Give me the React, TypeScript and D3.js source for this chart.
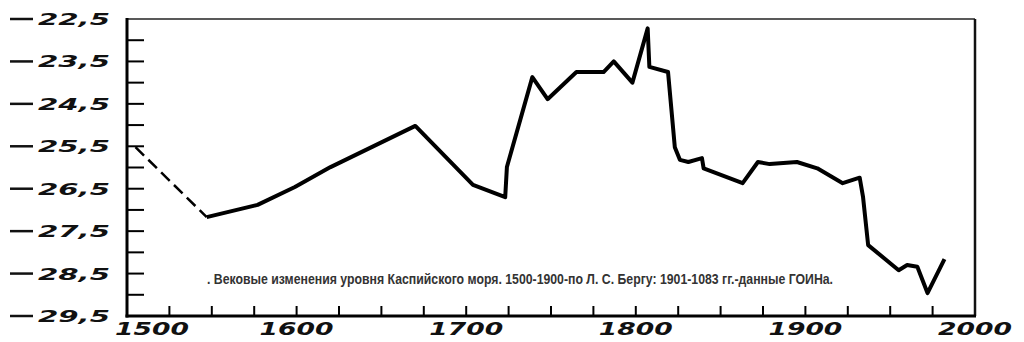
import React from "react";
import * as d3 from "d3";

// Caspian sea level, m
const dashedYears = [1505, 1547];
const dashedLevels = [-25.52, -27.17];

const solidYears = [
  1547, 1577, 1599, 1620, 1670, 1704, 1723, 1724, 1739, 1748, 1765, 1781, 1787,
  1798, 1807, 1808, 1819, 1823, 1826, 1831, 1839, 1840, 1863, 1872, 1879, 1895,
  1907, 1922, 1932, 1934, 1937, 1955, 1960, 1966, 1972, 1982,
];
const solidLevels = [
  -27.17, -26.88, -26.46, -25.99, -25.02, -26.41, -26.7, -25.99, -23.87, -24.39,
  -23.75, -23.75, -23.5, -24.0, -22.72, -23.63, -23.75, -25.52, -25.82, -25.87,
  -25.78, -26.02, -26.37, -25.87, -25.92, -25.87, -26.02, -26.37, -26.24, -26.7,
  -27.83, -28.42, -28.3, -28.34, -28.96, -28.16,
];

const yLabelValues = [-22.5, -23.5, -24.5, -25.5, -26.5, -27.5, -28.5, -29.5];
const yMinorTicks = [
  -23, -23.5, -24, -24.5, -25, -25.5, -26, -26.5, -27, -27.5, -28, -28.5, -29,
];
const xLabelValues = [1500, 1600, 1700, 1800, 1900, 2000];
const xMinorTicks = d3.range(1525, 2000, 25);

const caption =
  ". Вековые изменения уровня Каспийского моря. 1500-1900-по Л. С. Бергу: 1901-1083 гг.-данные ГОИНа.";

const W = 1024;
const H = 342;

export default function App() {
  const x = d3.scaleLinear().domain([1500, 2000]).range([127, 975]);
  const y = d3.scaleLinear().domain([-22.5, -29.5]).range([19, 316]);

  const pathOf = d3
    .line<[number, number]>()
    .x((d) => x(d[0]))
    .y((d) => y(d[1]));
  const solid = pathOf(solidYears.map((yr, i) => [yr, solidLevels[i]]));
  const dashed = pathOf(dashedYears.map((yr, i) => [yr, dashedLevels[i]]));

  const fmt = (v: number) => Math.abs(v).toFixed(1).replace(".", ",");
  const digitFont = "'DejaVu Sans', sans-serif";
  const [x0, x1] = x.range();
  const [y0, y1] = y.range();

  return (
    <svg
      width={W}
      height={H}
      style={{ position: "absolute", left: 0, top: 0, background: "#fff" }}
    >
      {/* frame */}
      <line x1={x0} y1={y0} x2={x1} y2={y0} stroke="#222" strokeWidth={1.5} />
      <line x1={x1} y1={y0} x2={x1} y2={y1} stroke="#111" strokeWidth={2.5} />
      <line x1={x0} y1={y0 - 1} x2={x0} y2={y1 + 1.5} stroke="#000" strokeWidth={3} />
      <line x1={x0 - 1.5} y1={y1} x2={x1 + 1} y2={y1} stroke="#000" strokeWidth={3} />

      {/* y ticks */}
      {yMinorTicks.map((v) => (
        <line
          key={"yt" + v}
          x1={x0}
          x2={x0 + 17}
          y1={y(v)}
          y2={y(v)}
          stroke="#000"
          strokeWidth={2}
        />
      ))}
      {/* x ticks */}
      {xMinorTicks.map((v) => (
        <line
          key={"xt" + v}
          x1={x(v)}
          x2={x(v)}
          y1={y1}
          y2={y1 - 10}
          stroke="#000"
          strokeWidth={2}
        />
      ))}

      {/* y labels */}
      {yLabelValues.map((v) => (
        <g key={"yl" + v}>
          <line
            x1={10}
            x2={33}
            y1={y(v)}
            y2={y(v)}
            stroke="#111"
            strokeWidth={2.5}
          />
          <text
            x={38}
            y={y(v) + 6}
            fontFamily={digitFont}
            fontStyle="italic"
            fontSize={16}
            fontWeight="bold"
            fill="#111"
            textLength={72}
            lengthAdjust="spacingAndGlyphs"
          >
            {fmt(v)}
          </text>
        </g>
      ))}

      {/* x labels */}
      {xLabelValues.map((v, i) => (
        <text
          key={"xl" + v}
          x={i === 0 ? x(v) - 12 : x(v) - 37}
          y={335}
          fontFamily={digitFont}
          fontStyle="italic"
          fontSize={18}
          fontWeight="bold"
          fill="#111"
          textLength={74}
          lengthAdjust="spacingAndGlyphs"
        >
          {v}
        </text>
      ))}

      {/* series */}
      <path
        d={dashed ?? ""}
        fill="none"
        stroke="#000"
        strokeWidth={2.5}
        strokeDasharray="12 6"
      />
      <path
        d={solid ?? ""}
        fill="none"
        stroke="#000"
        strokeWidth={4}
        strokeLinejoin="round"
      />

      {/* caption */}
      <text
        x={207}
        y={284}
        fontFamily="'Liberation Sans Narrow', 'Liberation Sans', sans-serif"
        fontWeight="bold"
        fontSize={14}
        fill="#333"
        textLength={626}
        lengthAdjust="spacingAndGlyphs"
      >
        {caption}
      </text>
    </svg>
  );
}
